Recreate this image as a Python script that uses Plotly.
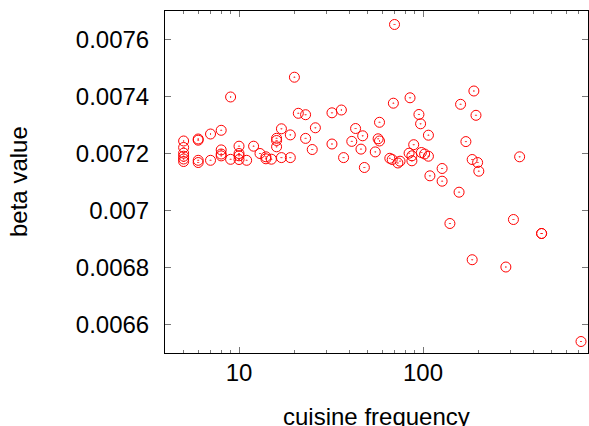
import plotly.graph_objects as go

# cuisine frequency (x) and beta value (y)
frequency = [
    70, 20, 9, 189, 85, 69, 160, 21, 23, 32,
    36, 95, 194, 97, 58, 26, 17, 43, 8, 7,
    19, 47, 107, 6, 6, 5, 16, 16, 23, 41,
    57, 58, 32, 171, 89, 5, 5, 5, 5, 5,
    6, 6, 7, 8, 8, 8, 9, 10, 10, 10,
    10, 11, 12, 13, 14, 14, 15, 16, 17, 19,
    25, 37, 46, 48, 55, 66, 68, 73, 75, 84,
    87, 87, 98, 102, 107, 109, 127, 127, 157, 185,
    198, 201, 335, 140, 310, 441, 441, 185, 282, 722,
]
beta = [
    0.0076527, 0.0074677, 0.0073983, 0.0074193, 0.0073955, 0.0073765, 0.0073726, 0.0073411, 0.0073361, 0.0073428,
    0.0073526, 0.0073369, 0.0073340, 0.0073042, 0.0073095, 0.0072902, 0.0072867, 0.0072877, 0.0072814, 0.0072684,
    0.0072653, 0.0072621, 0.0072642, 0.0072509, 0.0072467, 0.0072439, 0.0072533, 0.0072456, 0.0072530, 0.0072425,
    0.0072516, 0.0072439, 0.0072333, 0.0072418, 0.0072309, 0.0072211, 0.0072011, 0.0071905, 0.0071807, 0.0071719,
    0.0071761, 0.0071684, 0.0071761, 0.0072126, 0.0071982, 0.0071916, 0.0071796, 0.0072256, 0.0072000, 0.0071919,
    0.0071789, 0.0071761, 0.0072256, 0.0072000, 0.0071884, 0.0071814, 0.0071800, 0.0072235, 0.0071856, 0.0071856,
    0.0072140, 0.0071856, 0.0072154, 0.0071509, 0.0072056, 0.0071832, 0.0071789, 0.0071667, 0.0071730, 0.0072011,
    0.0071919, 0.0071744, 0.0072035, 0.0071982, 0.0071905, 0.0071217, 0.0071474, 0.0071028, 0.0070642, 0.0071789,
    0.0071684, 0.0071379, 0.0071884, 0.0069544, 0.0069684, 0.0069193, 0.0069193, 0.0068273, 0.0068017, 0.0065403,
]

x_ticks = [10, 100]
x_tick_text = ["10", "100"]
x_minor = [5, 6, 7, 8, 9, 20, 30, 40, 50, 60, 70, 80, 90, 200, 300, 400, 500, 600, 700]
y_ticks = [0.0066, 0.0068, 0.007, 0.0072, 0.0074, 0.0076]
y_tick_text = ["0.0066", "0.0068", "0.007", "0.0072", "0.0074", "0.0076"]

fig = go.Figure()
fig.add_trace(go.Scatter(
    x=frequency, y=beta, mode="markers",
    marker=dict(symbol="circle-open-dot", size=10, color="#ff0000",
                line=dict(width=1, color="#ff0000")),
    showlegend=False, cliponaxis=False,
))

font = dict(family="Liberation Sans, Arial, sans-serif", size=24, color="#000000")

fig.update_layout(
    width=589, height=426,
    margin=dict(l=165, r=1, t=11, b=73, autoexpand=False),
    paper_bgcolor="white", plot_bgcolor="white",
    font=font,
    annotations=[
        dict(text="beta value", textangle=-90, xref="paper", yref="paper",
             x=0, y=0.5, xanchor="center", yanchor="middle", xshift=-147,
             showarrow=False, font=font),
        dict(text="cuisine frequency", xref="paper", yref="paper",
             x=0.5, y=0, xanchor="center", yanchor="middle", yshift=-63,
             showarrow=False, font=font),
    ],
)
fig.update_xaxes(
    type="log", range=[0.5977, 2.8966], automargin=False,
    tickmode="array", tickvals=x_ticks, ticktext=x_tick_text,
    ticks="inside", ticklen=6, tickwidth=1, tickcolor="#777777",
    ticklabelstandoff=-2,
    minor=dict(ticks="inside", ticklen=3, tickwidth=1, tickcolor="#777777",
               tickmode="array", tickvals=x_minor, showgrid=False),
    showline=True, linecolor="#000000", linewidth=1, mirror="ticks",
    showgrid=False, zeroline=False,
    tickfont=font,
)
fig.update_yaxes(
    range=[0.0065, 0.0077], automargin=False,
    tickmode="array", tickvals=y_ticks, ticktext=y_tick_text,
    ticks="inside", ticklen=6, tickwidth=1, tickcolor="#777777",
    ticklabelstandoff=10,
    showline=True, linecolor="#000000", linewidth=1, mirror="ticks",
    showgrid=False, zeroline=False,
    tickfont=font,
)

fig.write_html("out.html", config={"displayModeBar": False},
               post_script="document.body.style.margin='0';document.body.style.overflow='hidden';")
